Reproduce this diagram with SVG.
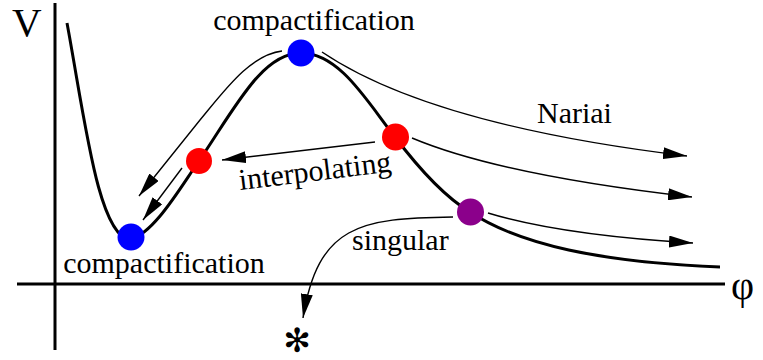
<svg xmlns="http://www.w3.org/2000/svg" width="763" height="360" viewBox="0 0 763 360">
<defs>
<style>
text{font-family:'Liberation Serif','Times New Roman',serif;fill:#000}
.lbl{font-size:30px}
.axis{stroke:#000;stroke-width:3;fill:none}
.pot{stroke:#000;stroke-width:3;fill:none}
.traj{stroke:#000;stroke-width:1.4;fill:none;marker-end:url(#ah)}
</style>
<marker id="ah" viewBox="0 0 24 12" refX="24" refY="6" markerWidth="24" markerHeight="12" markerUnits="userSpaceOnUse" orient="auto">
<path d="M0,0 L24,6 L0,12 z" fill="#000"/>
</marker>
</defs>
<rect width="763" height="360" fill="#fff"/>
<g id="axes">
<line class="axis" x1="55" y1="3" x2="55" y2="350"/>
<line class="axis" x1="17" y1="284" x2="725" y2="284"/>
<text x="12" y="36" font-size="41">V</text>
<text x="731" y="299" font-size="40">φ</text>
</g>
<g id="potential">
<path class="pot" d="M67,23 C85,120 98,235 130,240 C155,232 180,188 199,161 C235,108 262,53 301,53 C340,53 368,103 395,137 C420,170 445,197 470,212 C520,245 600,262 720,267"/>
</g>
<g id="connectors">
<path class="traj" d="M282,51 C250,55 225,90 200,120 L139,196"/>
<path class="traj" d="M182,168 L143,220"/>
<path class="traj" d="M375,142 L222,160"/>
<path class="traj" d="M322,52 Q430,125 687,156"/>
<path class="traj" d="M412,138 Q500,175 692,197"/>
<path class="traj" d="M488,213 Q560,235 693,243"/>
<path class="traj" d="M453,217 C360,218 318,225 303,318"/>
<text class="lbl" x="537" y="123">Nariai</text>
<text class="lbl" x="240" y="190" transform="rotate(-7 240 190)">interpolating</text>
<text class="lbl" x="352" y="250">singular</text>
</g>
<g id="node-top">
<circle cx="301" cy="53" r="13.5" fill="#0000ff"/>
<text class="lbl" x="314" y="30" text-anchor="middle">compactification</text>
</g>
<g id="node-min">
<circle cx="131" cy="237" r="13.5" fill="#0000ff"/>
<text class="lbl" x="164" y="273" text-anchor="middle">compactification</text>
</g>
<g id="node-interp-left">
<circle cx="199" cy="161" r="13" fill="#ff0000"/>
</g>
<g id="node-interp-right">
<circle cx="395.5" cy="137" r="13.5" fill="#ff0000"/>
</g>
<g id="node-singular">
<circle cx="470.5" cy="212" r="13.5" fill="#8b008b"/>
</g>
<g id="node-star">
<text x="297" y="352" text-anchor="middle" style="font-family:'DejaVu Sans',sans-serif;font-size:33px">✻</text>
</g>
</svg>
